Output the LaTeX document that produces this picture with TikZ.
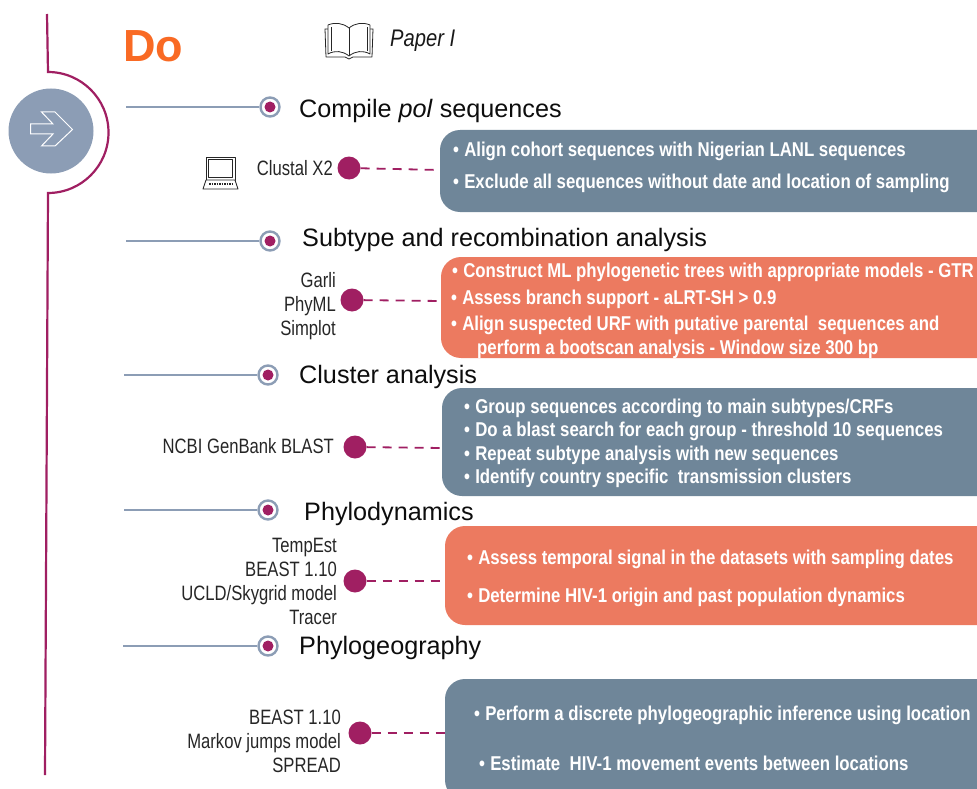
\documentclass[tikz,border=0pt]{standalone}
\usepackage{fontspec}
\setmainfont{Liberation Sans}
\newfontfamily\condfont[FakeStretch=0.84]{Liberation Sans}
\newfontfamily\toolfont[FakeStretch=0.80]{Liberation Sans}
\usetikzlibrary{calc}
\definecolor{spine}{HTML}{A01F62}
\definecolor{steel}{HTML}{8C9DB5}
\definecolor{boxblue}{HTML}{6F8699}
\definecolor{boxred}{HTML}{EC7A60}
\definecolor{doorange}{HTML}{F96A24}
\tikzset{
 x=1pt,y=-1pt,
 head/.style={anchor=west,inner sep=0pt,font=\fontsize{25.2}{25}\selectfont,text=black!95},
 tool/.style={inner sep=0pt,align=right,anchor=east,font=\toolfont\fontsize{20.8}{24}\selectfont,text=black!85},
 bul/.style={anchor=west,inner sep=0pt,text=white,font=\condfont\bfseries\fontsize{20}{22}\selectfont},
 tbox/.style={rounded corners=20pt,inner sep=0pt},
 hdot/.style={circle,draw=steel,line width=2.4pt,fill=white,minimum size=19pt,inner sep=0pt},
 hline/.style={draw=steel,line width=1.8pt},
 pdot/.style={circle,fill=spine,minimum size=23pt,inner sep=0pt},
 pcon/.style={draw=spine,line width=1.8pt,dash pattern=on 9pt off 7pt},
 icon/.style={draw=black!85,line width=.8pt,fill=white,line join=round},
}
\newcommand{\stepmark}[4]{% name, line start x, dot x, y
 \coordinate (#1s) at (#2,#4);
 \node[hdot] (#1) at (#3,#4) {};
 \fill[spine] (#1.center) circle (5.5pt);
 \draw[hline] (#1s) -- (#1.west);
}
\newcommand{\bl}[4]{\node[bul] (#1) at (#2,#3) {\textbullet\hspace{5.2pt}#4};}
\begin{document}
\begin{tikzpicture}
\useasboundingbox (0,0) rectangle (977,789);
\clip (0,0) rectangle (977,789);
% spine
\coordinate (sa) at (47,14); \coordinate (sb) at (48,72); \coordinate (sd) at (45,775);
\draw[spine,line width=2.2pt] (sa) -- (sb) arc[start angle=-90,end angle=90,radius=60.5] -- (sd);
% arrow disc
\node[circle,fill=steel,minimum size=85pt,inner sep=0pt] (disc) at (51,131) {};
\draw[white,line width=1pt,line join=miter] (30.5,124) -- (53,124) -- (41.5,112) -- (55,112) -- (72.5,129.5) -- (55,146) -- (41.5,146) -- (53,134) -- (30.5,134) -- cycle;
% title
\node[anchor=west,inner sep=0pt,text=doorange,font=\bfseries\fontsize{45}{46}\selectfont] (do) at (123,46) {Do};
% book
\begin{scope}[shift={(325,23)}]
\draw[icon] (0,6) -- (1,34) -- (20,34) -- (24,36) -- (28,34) -- (47,34) -- (48,6) -- cycle;
\draw[icon] (3,2) -- (3,31) .. controls (10,27) and (18,28) .. (24,33) .. controls (30,28) and (38,27) .. (45,31) -- (45,2) .. controls (38,-1) and (30,0) .. (24,5) .. controls (18,0) and (10,-1) .. (3,2) -- cycle;
\draw[icon] (24,5) -- (24,33);
\draw[icon,fill=none] (6,4) -- (6,28) (42,4) -- (42,28);
\end{scope}
\node[anchor=west,inner sep=0pt,text=black!90] (paper) at (390,41) {\condfont\itshape\fontsize{24}{24}\selectfont Paper I};
% laptop
\begin{scope}[shift={(203,157)}]
\draw[icon] (3,0) rectangle (32,23);
\draw[icon] (5.5,2.5) rectangle (29.5,20);
\draw[icon] (3,23) -- (32,23) -- (35,32) -- (0,32) -- cycle;
\draw[black!85,line width=1.6pt,dash pattern=on 1.5pt off 1pt] (6,26.8) -- (30,26.8);
\end{scope}
% heads
\stepmark{h1}{126}{270}{107}
\stepmark{h2}{126}{270}{241}
\stepmark{h3}{124}{268}{375}
\stepmark{h4}{124}{268}{510}
\stepmark{h5}{123}{268}{646}
\node[head] (t1) at (299,111) {Compile \textit{pol} sequences};
\node[head] (t2) at (302,240) {Subtype and recombination analysis};
\node[head] (t3) at (299,377) {Cluster analysis};
\node[head] (t4) at (304,514) {Phylodynamics};
\node[head] (t5) at (299,648) {Phylogeography};
% boxes
\path[fill=boxblue,tbox] (440,130) rectangle (1010,212); \coordinate (b1) at (440,170);
\path[fill=boxred,tbox] (441,257) rectangle (1010,358); \coordinate (b2) at (441,301);
\path[fill=boxblue,tbox] (442,388) rectangle (1010,496); \coordinate (b3) at (442,448);
\path[fill=boxred,tbox] (445,526) rectangle (1010,625); \coordinate (b4) at (445,581);
\path[fill=boxblue,tbox] (445,679) rectangle (1010,800); \coordinate (b5) at (445,733);
% tools
\node[tool] (c1) at (333,168) {Clustal X2};
\node[pdot] (p1) at (349,168) {};
\node[tool] (c2) at (336,306) {Garli\\PhyML\\Simplot};
\node[pdot] (p2) at (352,300) {};
\node[tool] (c3) at (334,446) {NCBI GenBank BLAST};
\node[pdot] (p3) at (355,447) {};
\node[tool] (c4) at (337,581) {TempEst\\BEAST 1.10\\UCLD/Skygrid model\\Tracer};
\node[pdot] (p4) at (355,581) {};
\node[tool] (c5) at (341,741) {BEAST 1.10\\Markov jumps model\\SPREAD};
\node[pdot] (p5) at (360,733) {};
\draw[pcon] (p1) -- (b1);
\draw[pcon] (p2) -- (b2);
\draw[pcon] (p3) -- (b3);
\draw[pcon] (p4) -- (b4);
\draw[pcon] (p5) -- (b5);
% bullets
\bl{a1}{453}{151}{Align cohort sequences with Nigerian LANL sequences}
\bl{a2}{453}{183}{Exclude all sequences without date and location of sampling}
\bl{b21}{452}{272}{Construct ML phylogenetic trees with appropriate models - GTR}
\bl{b22}{451}{299}{Assess branch support - aLRT-SH > 0.9}
\bl{b23}{451}{325}{Align suspected URF with putative parental\ \ sequences and}
\node[bul] (b24) at (477,349) {perform a bootscan analysis - Window size 300 bp};
\bl{c31}{464}{408}{Group sequences according to main subtypes/CRFs}
\bl{c32}{464}{431}{Do a blast search for each group - threshold 10 sequences}
\bl{c33}{464}{455}{Repeat subtype analysis with new sequences}
\bl{c34}{464}{478}{Identify country specific\ \ transmission clusters}
\bl{d41}{467}{559}{Assess temporal signal in the datasets with sampling dates}
\bl{d42}{467}{597}{Determine HIV-1 origin and past population dynamics}
\bl{e51}{474}{715}{Perform a discrete phylogeographic inference using location}
\bl{e52}{479}{763}{Estimate\ \ HIV-1 movement events between locations}
\end{tikzpicture}
\end{document}
